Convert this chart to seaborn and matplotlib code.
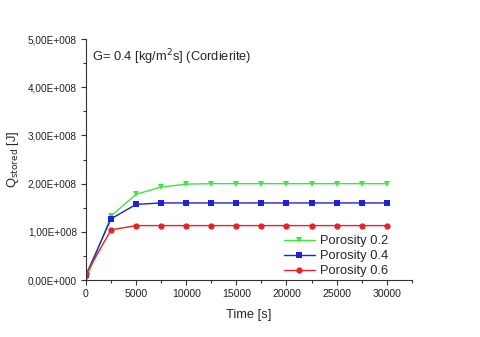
import numpy as np
import pandas as pd
import matplotlib
matplotlib.use("Agg")
import matplotlib.pyplot as plt
import seaborn as sns
from matplotlib.ticker import FuncFormatter, MultipleLocator

# data
time_s = [0, 2500, 5000, 7500, 10000, 12500, 15000, 17500, 20000, 22500, 25000, 27500, 30000]
q_por02 = [0.00e8, 1.33e8, 1.78e8, 1.93e8, 1.99e8, 2.00e8, 2.00e8, 2.00e8, 2.00e8, 2.00e8, 2.00e8, 2.00e8, 2.00e8]
q_por04 = [0.10e8, 1.27e8, 1.57e8, 1.60e8, 1.60e8, 1.60e8, 1.60e8, 1.60e8, 1.60e8, 1.60e8, 1.60e8, 1.60e8, 1.60e8]
q_por06 = [0.12e8, 1.04e8, 1.13e8, 1.13e8, 1.13e8, 1.13e8, 1.13e8, 1.13e8, 1.13e8, 1.13e8, 1.13e8, 1.13e8, 1.13e8]
labels = ["Porosity 0.2", "Porosity 0.4", "Porosity 0.6"]

sns.set_style("ticks")
plt.rcParams['font.family'] = ['Liberation Sans', 'DejaVu Sans']
plt.rcParams['font.size'] = 8.5

fig = plt.figure(figsize=(4.8, 3.37), dpi=100)
ax = fig.add_axes([0.179, 0.169, 0.679, 0.715])

series = [(q_por02, "#3ee83e", "v"), (q_por04, "#2020dc", "s"), (q_por06, "#e62222", "o")]
for (vals, col, mk), lab in zip(series, labels):
    sns.lineplot(x=time_s, y=vals, ax=ax, color=col, marker=mk, markersize=4.5,
                 markeredgewidth=0, linewidth=1.0, label=lab)

ax.set_xlim(0, 32500)
ax.set_ylim(0, 5e8)
ax.xaxis.set_major_locator(MultipleLocator(5000))
ax.xaxis.set_minor_locator(MultipleLocator(2500))
ax.yaxis.set_major_locator(MultipleLocator(1e8))
ax.yaxis.set_minor_locator(MultipleLocator(0.5e8))

def sci_fmt(v, pos):
    if v == 0:
        return "0,00E+000"
    e = int(np.floor(np.log10(abs(v))))
    m = v / 10**e
    return ("%.2f" % m).replace(".", ",") + "E+%03d" % e

ax.yaxis.set_major_formatter(FuncFormatter(sci_fmt))
ax.tick_params(which='major', direction='out', length=3.5, width=0.8, colors='#333333',
               labelcolor='#222222', labelsize=7.6, pad=3)
ax.tick_params(axis='y', labelsize=7.2)
ax.tick_params(which='minor', direction='out', length=2, width=0.8, colors='#333333')
for s in ['left', 'bottom']:
    ax.spines[s].set_color('#333333')
    ax.spines[s].set_linewidth(0.8)
sns.despine(ax=ax)

ax.set_xlabel("Time [s]", fontsize=9.3, labelpad=7)
ax.set_ylabel(r"Q$_{\mathrm{stored}}$ [J]", fontsize=9.3, labelpad=5)
ax.text(0.018, 0.965, r"G= 0.4 [kg/m$^2$s] (Cordierite)", transform=ax.transAxes,
        fontsize=9.3, va='top', ha='left')

ax.legend(loc='lower right', bbox_to_anchor=(0.955, -0.025), frameon=False, fontsize=9.3,
          handlelength=2.4, handletextpad=0.4, labelspacing=0.22, borderaxespad=0.3)

fig.savefig("out.png", dpi=100)
